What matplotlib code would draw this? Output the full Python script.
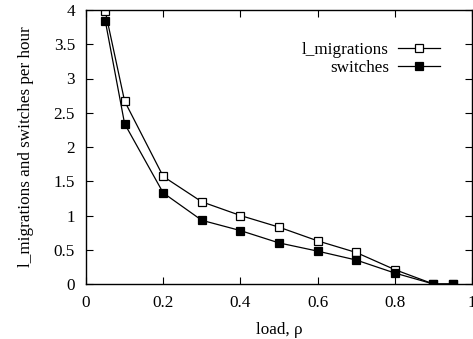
import matplotlib
matplotlib.use("Agg")
import matplotlib.pyplot as plt

load = [0.05, 0.1, 0.2, 0.3, 0.4, 0.5, 0.6, 0.7, 0.8, 0.9, 0.95]
l_migrations = [3.98, 2.67, 1.57, 1.20, 1.00, 0.83, 0.63, 0.46, 0.21, 0.0, 0.0]
switches = [3.84, 2.34, 1.33, 0.93, 0.78, 0.60, 0.48, 0.35, 0.16, 0.0, 0.0]
xticks = [0, 0.2, 0.4, 0.6, 0.8, 1]
xticklabels = ["0", "0.2", "0.4", "0.6", "0.8", "1"]
yticks = [0, 0.5, 1, 1.5, 2, 2.5, 3, 3.5, 4]
yticklabels = ["0", "0.5", "1", "1.5", "2", "2.5", "3", "3.5", "4"]

plt.rcParams['font.family'] = ['Liberation Serif', 'DejaVu Serif']
plt.rcParams['font.size'] = 12.3

fig = plt.figure(figsize=(4.73, 3.39), dpi=100)
ax = fig.add_axes([86/473, 1-284/339, (472-86)/473, (284-10)/339])

ax.plot(load, l_migrations, color='black', lw=0.9, marker='s', ms=5.5,
        mfc='white', mec='black', mew=0.9, label='l_migrations')
ax.plot(load, switches, color='black', lw=0.9, marker='s', ms=5.5,
        mfc='black', mec='black', mew=0.9, label='switches')

ax.set_xlim(0, 1)
ax.set_ylim(0, 4)
ax.set_xticks(xticks)
ax.set_xticklabels(xticklabels)
ax.set_yticks(yticks)
ax.set_yticklabels(yticklabels)
ax.tick_params(direction='in', top=True, right=True, length=5, width=0.8)
ax.tick_params(axis='x', pad=8)
ax.tick_params(axis='y', pad=8)
for s in ax.spines.values():
    s.set_linewidth(1.0)

ax.set_xlabel('load, ρ', labelpad=8)
ax.set_ylabel('l_migrations and switches per hour', labelpad=14)

ax.legend(loc='upper right', bbox_to_anchor=(0.94, 0.915), frameon=False,
          markerfirst=False, handlelength=2.5, handletextpad=0.5,
          labelspacing=0.12, borderpad=0)

fig.savefig('out.png', dpi=100)
